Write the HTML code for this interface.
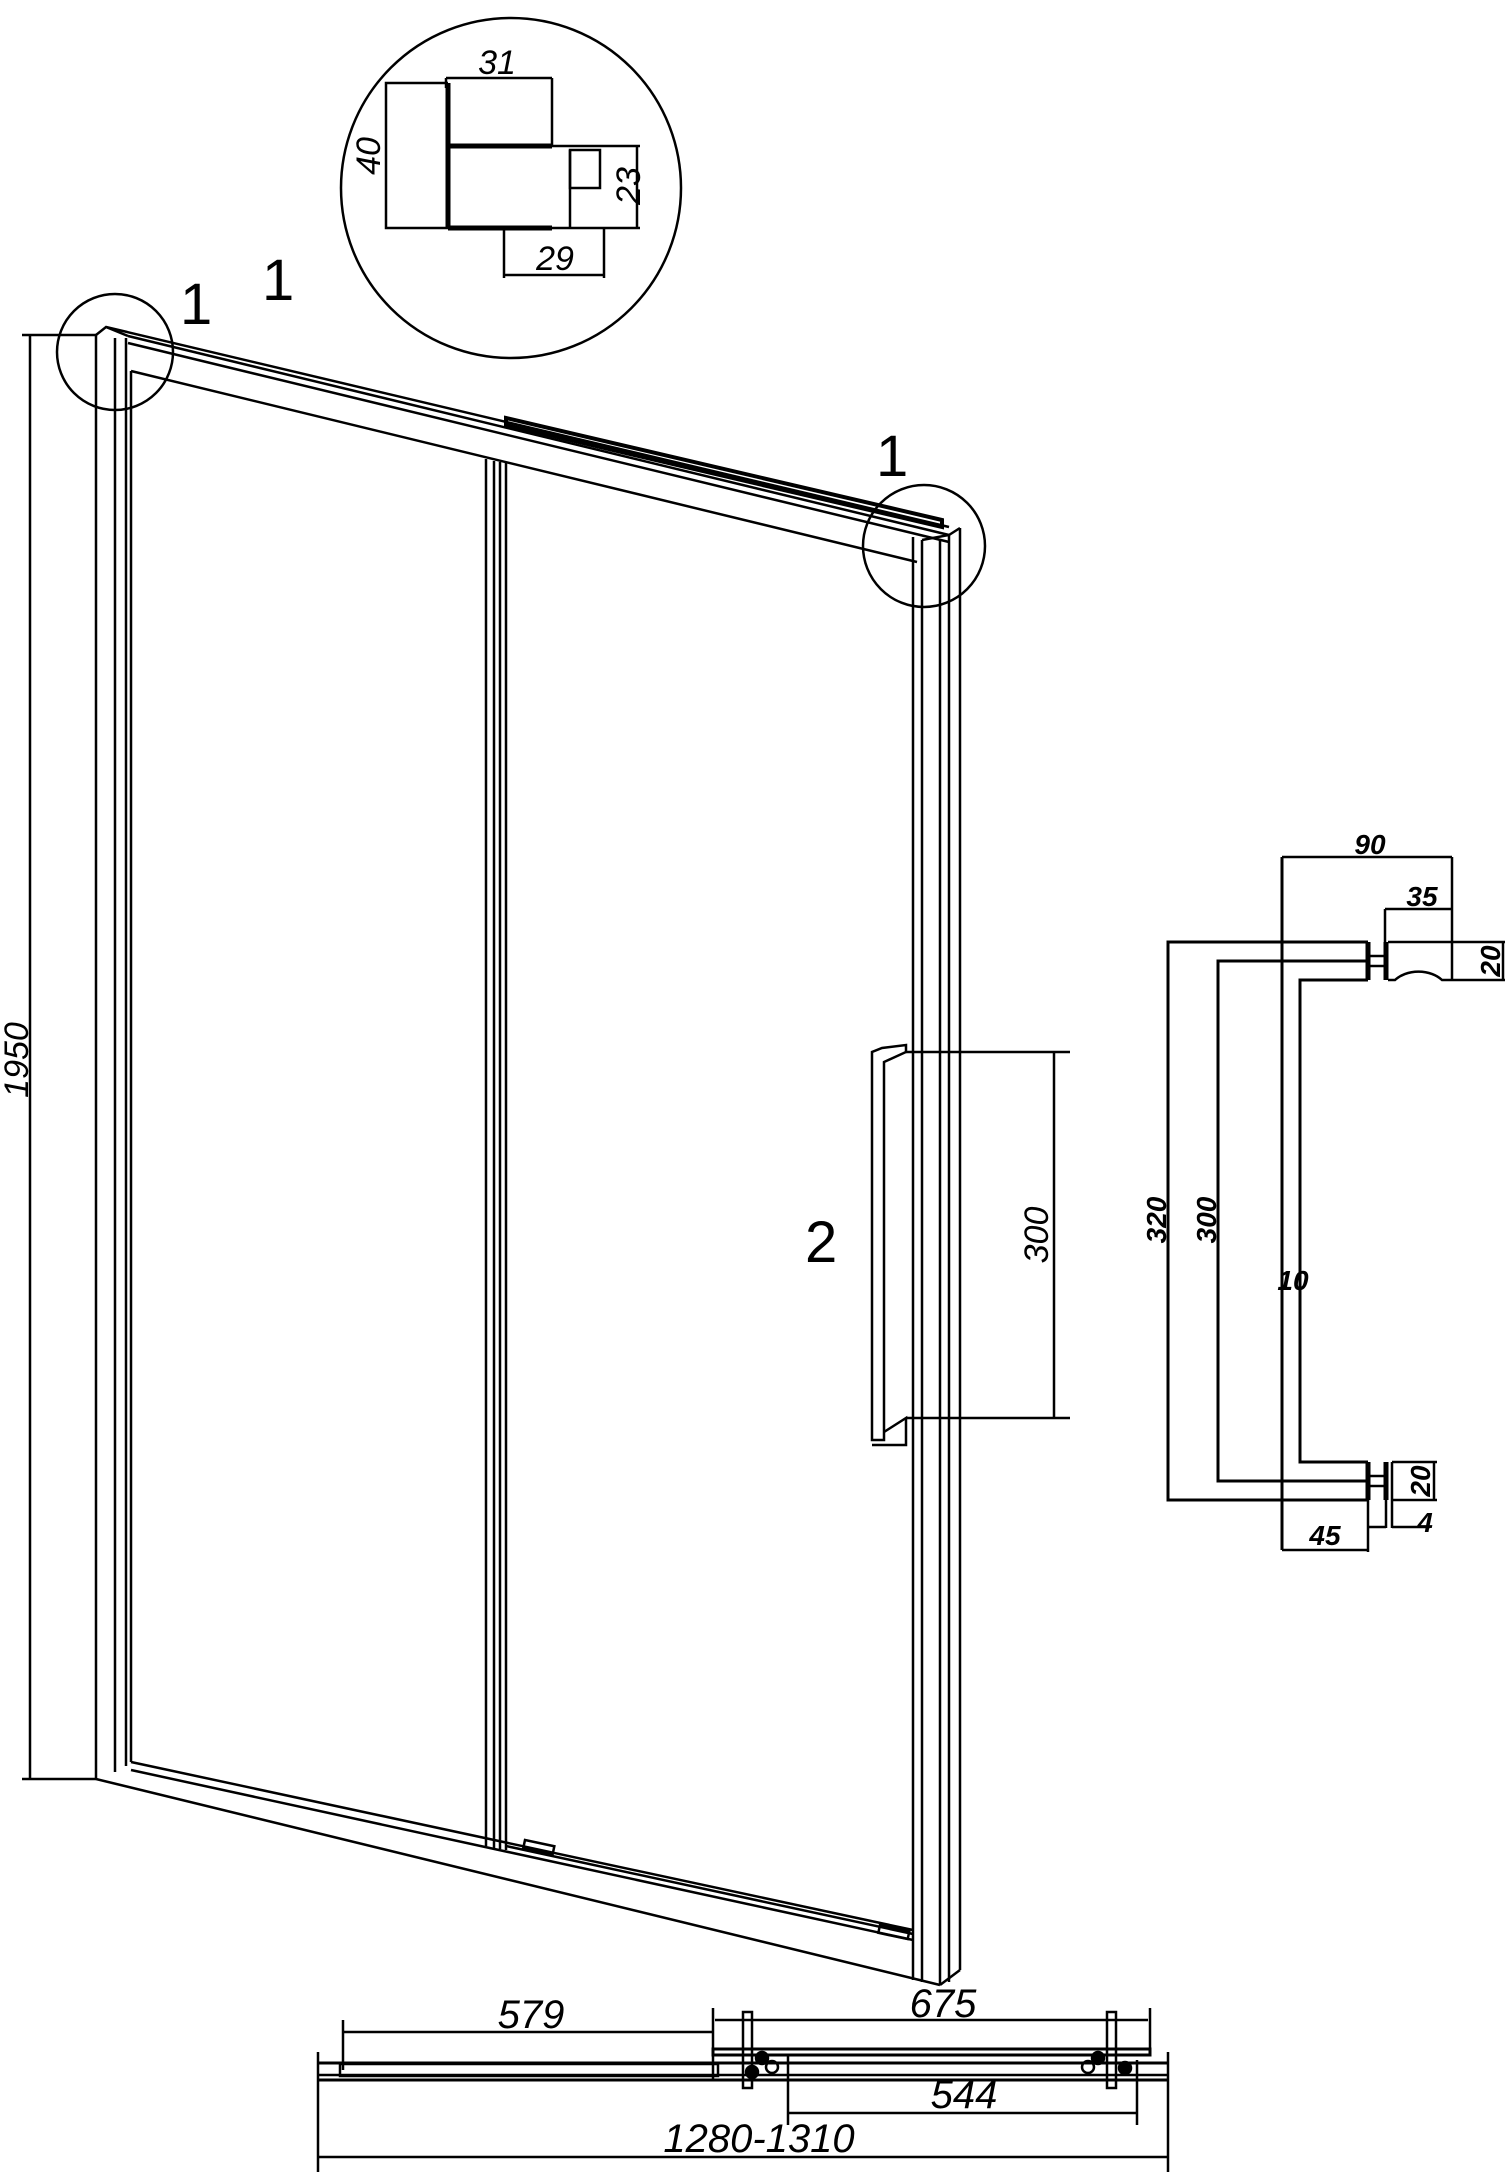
<!DOCTYPE html>
<html><head><meta charset="utf-8"><style>
html,body{margin:0;padding:0;background:#fff}
svg{display:block}
text{font-family:"Liberation Sans Narrow","Liberation Sans",sans-serif;font-style:italic;fill:#000}
</style></head><body>
<svg width="1512" height="2176" viewBox="0 0 1512 2176" xmlns="http://www.w3.org/2000/svg">
<g fill="none" stroke="#000" stroke-width="2.5">
<!-- 1950 dim -->
<line x1="22" y1="335" x2="96" y2="335"/>
<line x1="30" y1="335" x2="30" y2="1779"/>
<line x1="22" y1="1779" x2="96" y2="1779"/>
<!-- left post -->
<line x1="96" y1="335" x2="96" y2="1779"/>
<line x1="115" y1="338" x2="115" y2="1772"/>
<line x1="126" y1="338" x2="126" y2="1766"/>
<line x1="131" y1="371" x2="131" y2="1762"/>
<path d="M96 335 L106 327 L128 336"/>
<!-- top rail -->
<line x1="106" y1="327" x2="949" y2="527"/>
<line x1="128" y1="336" x2="949" y2="535"/>
<line x1="128" y1="343" x2="949" y2="542"/>
<line x1="131" y1="371" x2="917" y2="562"/>
<!-- track -->
<path d="M506 418 L942 520 L942 527 L506 425 Z" stroke-width="4"/>
<!-- middle post -->
<line x1="486" y1="459" x2="486" y2="1846"/>
<line x1="494" y1="461" x2="494" y2="1848"/>
<line x1="500" y1="462" x2="500" y2="1849"/>
<line x1="506" y1="463" x2="506" y2="1850"/>
<!-- right post -->
<line x1="913" y1="537" x2="913" y2="1980"/>
<line x1="922" y1="540" x2="922" y2="1982"/>
<line x1="940" y1="540" x2="940" y2="1985"/>
<line x1="949" y1="535" x2="949" y2="1982"/>
<line x1="960" y1="528" x2="960" y2="1970"/>
<path d="M922 540 L949 535 L960 528"/>
<path d="M940 1985 L960 1970"/>
<!-- bottom rail -->
<line x1="131" y1="1762" x2="913" y2="1930"/>
<line x1="131" y1="1770" x2="913" y2="1940"/>
<line x1="96" y1="1779" x2="940" y2="1985"/>
<line x1="506" y1="1846" x2="913" y2="1934"/>
<rect x="525" y="1840" width="30" height="8" transform="rotate(12 525 1840)"/>
<rect x="880" y="1925" width="30" height="8" transform="rotate(12 880 1925)"/>
<!-- handle on door -->
<path d="M872 1052 L872 1440 L884 1440 L884 1062 L906 1052 L906 1045 L882 1048 Z"/>
<path d="M884 1432 L906 1418 L906 1445 L872 1445"/>
<!-- 300 dim -->
<line x1="906" y1="1052" x2="1070" y2="1052"/>
<line x1="906" y1="1418" x2="1070" y2="1418"/>
<line x1="1054" y1="1052" x2="1054" y2="1418"/>
<!-- circles -->
<circle cx="115" cy="352" r="58"/>
<circle cx="924" cy="546" r="61"/>
<circle cx="511" cy="188" r="170"/>
<!-- detail profile -->
<polyline points="448,83 386,83 386,228 448,228"/>
<line x1="448" y1="83" x2="448" y2="228" stroke-width="5"/>
<line x1="448" y1="146" x2="552" y2="146" stroke-width="5"/>
<line x1="448" y1="228" x2="552" y2="228" stroke-width="5"/>
<line x1="446" y1="78" x2="552" y2="78"/>
<line x1="446" y1="78" x2="446" y2="88"/>
<line x1="552" y1="78" x2="552" y2="146"/>
<line x1="552" y1="146" x2="640" y2="146"/>
<line x1="552" y1="228" x2="640" y2="228"/>
<line x1="637" y1="146" x2="637" y2="228"/>
<rect x="570" y="150" width="30" height="38"/>
<line x1="570" y1="150" x2="570" y2="228"/>
<line x1="504" y1="228" x2="504" y2="278"/>
<line x1="604" y1="228" x2="604" y2="278"/>
<line x1="504" y1="275" x2="604" y2="275"/>
<!-- right handle drawing -->
<line x1="1282" y1="857" x2="1452" y2="857"/>
<line x1="1282" y1="857" x2="1282" y2="1550" stroke-width="3"/>
<line x1="1452" y1="857" x2="1452" y2="980"/>
<line x1="1385" y1="909" x2="1452" y2="909"/>
<line x1="1385" y1="909" x2="1385" y2="980"/>
<polyline points="1368,942 1168,942 1168,1500 1368,1500" stroke-width="3"/>
<polyline points="1368,961 1218,961 1218,1481 1368,1481" stroke-width="3"/>
<polyline points="1368,980 1300,980 1300,1462 1368,1462" stroke-width="3"/>
<line x1="1368" y1="942" x2="1368" y2="980" stroke-width="5"/>
<line x1="1368" y1="1462" x2="1368" y2="1500" stroke-width="5"/>
<line x1="1370" y1="956" x2="1384" y2="956"/><line x1="1370" y1="966" x2="1384" y2="966"/>
<line x1="1370" y1="1476" x2="1384" y2="1476"/><line x1="1370" y1="1486" x2="1384" y2="1486"/>
<line x1="1386" y1="942" x2="1386" y2="980" stroke-width="5"/>
<path d="M1388 942 L1505 942 M1388 980 L1395 980 A30 22 0 0 1 1442 980 L1505 980" />
<line x1="1503" y1="942" x2="1503" y2="980"/>
<line x1="1386" y1="1462" x2="1386" y2="1500" stroke-width="5"/>
<line x1="1386" y1="1462" x2="1386" y2="1528"/>
<line x1="1392" y1="1462" x2="1392" y2="1528"/>
<polyline points="1392,1462 1437,1462"/>
<polyline points="1392,1500 1437,1500"/>
<line x1="1434" y1="1462" x2="1434" y2="1500"/>
<line x1="1368" y1="1527" x2="1386" y2="1527"/>
<line x1="1392" y1="1527" x2="1430" y2="1527"/>
<line x1="1368" y1="1500" x2="1368" y2="1552"/>
<line x1="1282" y1="1550" x2="1368" y2="1550"/>
<!-- plan view -->
<line x1="343" y1="2032" x2="713" y2="2032"/>
<line x1="343" y1="2020" x2="343" y2="2070"/>
<line x1="715" y1="2020" x2="1148" y2="2020"/>
<line x1="713" y1="2008" x2="713" y2="2080"/>
<line x1="1150" y1="2008" x2="1150" y2="2050"/>
<line x1="318" y1="2052" x2="318" y2="2172"/>
<line x1="1168" y1="2052" x2="1168" y2="2172"/>
<line x1="318" y1="2063" x2="1168" y2="2063" stroke-width="3"/>
<line x1="318" y1="2075" x2="1168" y2="2075"/>
<line x1="318" y1="2080" x2="1168" y2="2080" stroke-width="3"/>
<rect x="340" y="2064" width="378" height="12"/>
<rect x="713" y="2049" width="437" height="6" stroke-width="3"/>
<rect x="743" y="2012" width="9" height="76"/>
<rect x="1107" y="2012" width="9" height="76"/>
<circle cx="762" cy="2058" r="6" fill="#000"/>
<circle cx="772" cy="2067" r="6"/>
<circle cx="752" cy="2072" r="6" fill="#000"/>
<circle cx="1098" cy="2058" r="6" fill="#000"/>
<circle cx="1088" cy="2067" r="6"/>
<circle cx="1125" cy="2068" r="6" fill="#000"/>
<line x1="788" y1="2055" x2="788" y2="2125"/>
<line x1="1137" y1="2060" x2="1137" y2="2125"/>
<line x1="788" y1="2113" x2="1137" y2="2113"/>
<line x1="318" y1="2157" x2="1168" y2="2157"/>
</g>
<!-- labels -->
<g font-size="58">
<text x="180" y="324" style="font-style:normal">1</text>
<text x="262" y="300" style="font-style:normal">1</text>
<text x="876" y="476" style="font-style:normal">1</text>
<text x="805" y="1262" style="font-style:normal">2</text>
</g>
<g font-size="34">
<text x="497" y="74" text-anchor="middle">31</text>
<text x="555" y="270" text-anchor="middle">29</text>
<text transform="translate(380 156) rotate(-90)" text-anchor="middle">40</text>
<text transform="translate(640 186) rotate(-90)" text-anchor="middle">23</text>
<text transform="translate(28 1060) rotate(-90)" text-anchor="middle">1950</text>
<text transform="translate(1048 1235) rotate(-90)" text-anchor="middle">300</text>
</g>
<g font-size="28" font-weight="bold">
<text x="1370" y="854" text-anchor="middle">90</text>
<text x="1422" y="906" text-anchor="middle">35</text>
<text transform="translate(1500 961) rotate(-90)" text-anchor="middle">20</text>
<text transform="translate(1430 1481) rotate(-90)" text-anchor="middle">20</text>
<text x="1425" y="1532" text-anchor="middle">4</text>
<text x="1325" y="1545" text-anchor="middle">45</text>
<text transform="translate(1166 1220) rotate(-90)" text-anchor="middle">320</text>
<text transform="translate(1216 1220) rotate(-90)" text-anchor="middle">300</text>
<text x="1293" y="1290" text-anchor="middle">10</text>
</g>
<g font-size="40">
<text x="531" y="2028" text-anchor="middle">579</text>
<text x="943" y="2017" text-anchor="middle">675</text>
<text x="964" y="2108" text-anchor="middle">544</text>
<text x="759" y="2152" text-anchor="middle">1280-1310</text>
</g>
</svg>
</body></html>
